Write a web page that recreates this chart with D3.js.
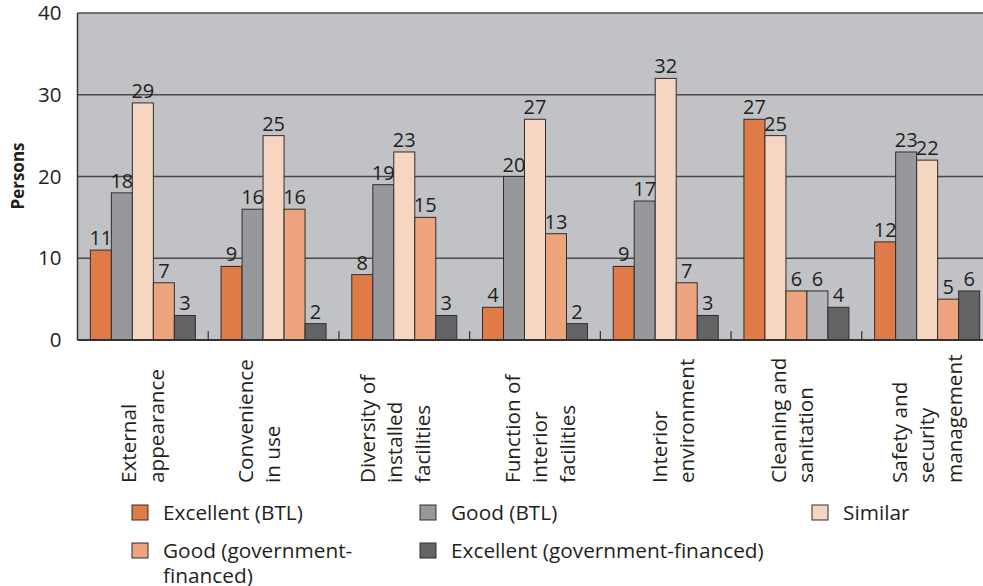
<!DOCTYPE html>
<html>
<head>
<meta charset="utf-8">
<script src="https://cdn.jsdelivr.net/npm/d3@7"></script>
<style>
  html, body { margin: 0; padding: 0; background: #ffffff; }
  svg { display: block; font-family: "Open Sans", "Noto Sans", sans-serif; }
</style>
</head>
<body>
<svg id="chart" width="983" height="586"></svg>
<script>
// Satisfaction ratings by aspect, number of persons per response
const categories = [
  ["External", "appearance"],
  ["Convenience", "in use"],
  ["Diversity of", "installed", "facilities"],
  ["Function of", "interior", "facilities"],
  ["Interior", "environment"],
  ["Cleaning and", "sanitation"],
  ["Safety and", "security", "management"]
];
const seriesNames = [
  "Excellent (BTL)",
  "Good (BTL)",
  "Similar",
  "Good (government-financed)",
  "Excellent (government-financed)"
];
const excellentBTL = [11, 9, 8, 4, 9, 27, 12];
const goodBTL      = [18, 16, 19, 20, 17, 6, 23];
const similar      = [29, 25, 23, 27, 32, 25, 22];
const goodGov      = [7, 16, 15, 13, 7, 6, 5];
const excellentGov = [3, 2, 3, 2, 3, 4, 6];
const yTicks = [0, 10, 20, 30, 40];

// Order in which the series sit inside each group
const barOrder = [
  [0, 1, 2, 3, 4],
  [0, 1, 2, 3, 4],
  [0, 1, 2, 3, 4],
  [0, 1, 2, 3, 4],
  [0, 1, 2, 3, 4],
  [0, 2, 3, 1, 4],
  [0, 1, 2, 3, 4]
];

const seriesValues = [excellentBTL, goodBTL, similar, goodGov, excellentGov];
const colors = ["#e07b47", "#97989b", "#f6d6c1", "#eda37d", "#636466"];
const movedGrey = "#b4b5b8";
const labelShift = [0, -14, -9, 5, 8, -4, 0];

const svg = d3.select("#chart");
const plot = { left: 77.5, right: 992.5, top: 13, bottom: 340 };

const x = d3.scaleBand()
  .domain(d3.range(categories.length))
  .range([plot.left, plot.right])
  .padding(0);
const groupW = 105;
const inset = (x.bandwidth() - groupW) / 2;
const xi = d3.scaleBand().domain(d3.range(5)).range([inset, inset + groupW]).padding(0);
const y = d3.scaleLinear().domain([0, 40]).range([plot.bottom, plot.top]);

// Plot background
svg.append("rect")
  .attr("x", plot.left).attr("y", plot.top)
  .attr("width", plot.right - plot.left).attr("height", plot.bottom - plot.top)
  .attr("fill", "#c1c2c5");

// Gridlines
svg.append("g")
  .selectAll("line").data(yTicks.filter(t => t > 0)).join("line")
  .attr("x1", plot.left).attr("x2", plot.right)
  .attr("y1", d => y(d)).attr("y2", d => y(d))
  .attr("stroke", "#4a4a4c").attr("stroke-width", 1.5);

// Category boundary ticks
svg.append("g")
  .selectAll("line").data(d3.range(1, categories.length)).join("line")
  .attr("x1", d => x(d)).attr("x2", d => x(d))
  .attr("y1", plot.bottom).attr("y2", plot.bottom - 9)
  .attr("stroke", "#333").attr("stroke-width", 1.2);

// Bars
const bars = [];
categories.forEach((c, ci) => {
  barOrder[ci].forEach((si, pos) => {
    bars.push({ ci, si, pos, v: seriesValues[si][ci], fill: (si === 1 && pos !== 1) ? movedGrey : colors[si] });
  });
});

const g = svg.append("g");
g.selectAll("rect").data(bars).join("rect")
  .attr("x", d => x(d.ci) + xi(d.pos))
  .attr("y", d => y(d.v))
  .attr("width", xi.bandwidth())
  .attr("height", d => y(0) - y(d.v))
  .attr("fill", d => d.fill)
  .attr("stroke", "#2e2e2e").attr("stroke-width", 1);

g.selectAll("text").data(bars).join("text")
  .attr("x", d => x(d.ci) + xi(d.pos) + xi.bandwidth() / 2)
  .attr("y", d => y(d.v) - 5)
  .attr("text-anchor", "middle")
  .attr("font-size", 20)
  .attr("fill", "#231f20")
  .text(d => d.v);

// Axes lines
svg.append("line")
  .attr("x1", plot.left).attr("x2", plot.left)
  .attr("y1", plot.top).attr("y2", plot.bottom)
  .attr("stroke", "#333").attr("stroke-width", 1.5);
svg.append("line")
  .attr("x1", plot.left).attr("x2", plot.right)
  .attr("y1", plot.bottom).attr("y2", plot.bottom)
  .attr("stroke", "#333").attr("stroke-width", 2);

// Y axis
const yAxis = d3.axisLeft(y).tickValues(yTicks).tickSize(0).tickPadding(16);
const ya = svg.append("g").attr("transform", `translate(${plot.left},0)`).call(yAxis);
ya.select(".domain").remove();
ya.selectAll("text")
  .attr("font-size", 20.5)
  .attr("font-family", "'Open Sans', sans-serif")
  .attr("fill", "#231f20");

svg.append("text")
  .attr("transform", `translate(24,176) rotate(-90)`)
  .attr("text-anchor", "middle")
  .attr("font-size", 17)
  .attr("font-weight", "bold")
  .attr("fill", "#231f20")
  .text("Persons");

// Category labels, rotated
const lineGap = 27.5;
categories.forEach((lines, ci) => {
  const cx = x(ci) + x.bandwidth() / 2 + labelShift[ci];
  const n = lines.length;
  lines.forEach((ln, li) => {
    const bx = cx + (li - (n - 1) / 2) * lineGap + 7;
    svg.append("text")
      .attr("transform", `translate(${bx},483) rotate(-90)`)
      .attr("text-anchor", "start")
      .attr("font-size", 20.7)
      .attr("fill", "#231f20")
      .text(ln);
  });
});

// Legend
const legendItems = [
  { si: 0, x: 132, y: 505, lines: ["Excellent (BTL)"] },
  { si: 1, x: 420, y: 505, lines: ["Good (BTL)"] },
  { si: 2, x: 812, y: 505, lines: ["Similar"] },
  { si: 3, x: 132, y: 543, lines: ["Good (government-", "financed)"] },
  { si: 4, x: 420, y: 543, lines: ["Excellent (government-financed)"] }
];
const lg = svg.append("g");
legendItems.forEach(it => {
  lg.append("rect")
    .attr("x", it.x).attr("y", it.y)
    .attr("width", 16).attr("height", 15)
    .attr("fill", colors[it.si])
    .attr("stroke", "#2e2e2e").attr("stroke-width", 1);
  it.lines.forEach((ln, li) => {
    lg.append("text")
      .attr("x", it.x + 31)
      .attr("y", it.y + 15 + li * 25)
      .attr("font-size", 20.8)
      .attr("fill", "#231f20")
      .text(ln);
  });
});
</script>
</body>
</html>
